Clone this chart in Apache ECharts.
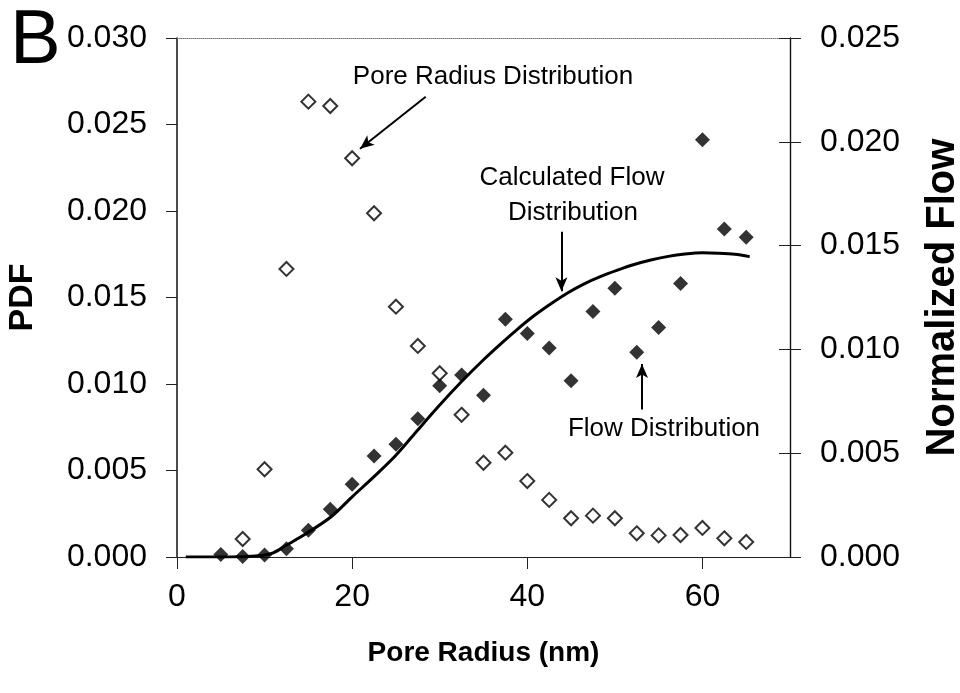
<!DOCTYPE html>
<html>
<head>
<meta charset="utf-8">
<script src="https://cdn.jsdelivr.net/npm/echarts@6/dist/echarts.min.js"></script>
<style>
  html, body { margin: 0; padding: 0; background: #fff; }
  #chart { width: 960px; height: 693px; }
</style>
</head>
<body>
<div id="chart"></div>
<script>
// ---- Data ----
var xTicks = [0, 20, 40, 60];
var leftTicks = ['0.000', '0.005', '0.010', '0.015', '0.020', '0.025', '0.030'];
var rightTicks = ['0.000', '0.005', '0.010', '0.015', '0.020', '0.025'];

// Pore Radius Distribution (open diamonds, left axis PDF)
var pdfRadius = [7.5, 10, 12.5, 15, 17.5, 20, 22.5, 25, 27.5, 30, 32.5, 35, 37.5, 40, 42.5, 45, 47.5, 50, 52.5, 55, 57.5, 60, 62.5, 65];
var pdfValues = [0.00104, 0.00507, 0.01665, 0.02632, 0.02607, 0.02305, 0.01987, 0.01447, 0.0122, 0.01062, 0.00822, 0.00545, 0.00603, 0.00439, 0.0033, 0.00224, 0.00239, 0.00224, 0.00137, 0.00125, 0.00127, 0.00168, 0.00108, 0.00087];

// Flow Distribution (filled diamonds, right axis Normalized Flow)
var flowRadius = [5, 7.5, 10, 12.5, 15, 17.5, 20, 22.5, 25, 27.5, 30, 32.5, 35, 37.5, 40, 42.5, 45, 47.5, 50, 52.5, 55, 57.5, 60, 62.5, 65];
var flowValues = [0.00012, 0.00003, 0.0001, 0.0004, 0.00129, 0.0023, 0.0035, 0.00487, 0.00543, 0.00666, 0.00825, 0.00877, 0.00779, 0.01145, 0.01077, 0.01007, 0.00849, 0.01182, 0.01294, 0.00986, 0.01105, 0.01318, 0.0201, 0.0158, 0.0154];

// Calculated Flow Distribution (solid curve, right axis)
var curveRadius = [1, 5, 8, 10, 11, 12.4, 14.8, 17.6, 20, 22.5, 25, 27.5, 30, 32.5, 35, 37, 38.9, 40.8, 42.7, 44.6, 46.5, 48.4, 50.3, 52.2, 54.1, 56.1, 58, 60, 61.8, 63.7, 65.4];
var curveValues = [0, 0, 0.00002, 0.0001, 0.0002, 0.00054, 0.00114, 0.00194, 0.0029, 0.00387, 0.0049, 0.00612, 0.00732, 0.00845, 0.0095, 0.01028, 0.01098, 0.01163, 0.0122, 0.01272, 0.01316, 0.01352, 0.01382, 0.01409, 0.01431, 0.01448, 0.01459, 0.01465, 0.01463, 0.01458, 0.01447];

// Annotation arrows in data coordinates [x, y] (start -> tip)
var poreArrow = [[28.4, 0.0266], [20.9, 0.0236]];
var calcArrow = [[43.9, 0.01567], [43.9, 0.0128]];
var flowArrow = [[53.1, 0.0071], [53.1, 0.0093]];

function zip(a, b) { return a.map(function (v, i) { return [v, b[i]]; }); }

var FONT = "'Liberation Sans', Arial, Helvetica, sans-serif";
var chart = echarts.init(document.getElementById('chart'), null, { renderer: 'canvas' });

function arrowLine(pts) {
  return {
    silent: true,
    symbol: ['none', 'arrow'],
    symbolSize: [9, 14],
    label: { show: false },
    lineStyle: { color: '#000', width: 2, type: 'solid' },
    data: [[{ coord: pts[0] }, { coord: pts[1] }]]
  };
}

var option = {
  animation: false,
  backgroundColor: '#fff',
  textStyle: { fontFamily: FONT },
  grid: { left: 177, right: 170, top: 38, bottom: 136, containLabel: false, outerBoundsMode: 'none' },
  xAxis: [{
    type: 'value', min: 0, max: 70, interval: 20, position: 'bottom',
    axisLine: { show: true, onZero: false, lineStyle: { color: '#222', width: 1.2 } },
    axisTick: { show: true, inside: false, length: 12, lineStyle: { color: '#222', width: 1 } },
    axisLabel: {
      fontSize: 32, color: '#000', fontFamily: FONT, margin: 24, showMaxLabel: false,
      formatter: function (v) { return xTicks.indexOf(v) >= 0 ? String(v) : ''; }
    },
    splitLine: { show: false },
    name: 'Pore Radius (nm)', nameLocation: 'middle', nameGap: 82,
    nameTextStyle: { fontSize: 28, fontWeight: 'bold', color: '#000', fontFamily: FONT }
  }, {
    type: 'value', min: 0, max: 70, position: 'top',
    axisLine: { show: true, onZero: false, lineStyle: { color: '#777', width: 1, type: 'dotted' } },
    axisTick: { show: false }, axisLabel: { show: false }, splitLine: { show: false }
  }],
  yAxis: [{
    type: 'value', min: 0, max: 0.03, interval: 0.005, position: 'left',
    axisLine: { show: true, onZero: false, lineStyle: { color: '#111', width: 1.5 } },
    axisTick: { show: true, inside: false, length: 11, lineStyle: { color: '#222' } },
    axisLabel: {
      fontSize: 32, color: '#000', fontFamily: FONT, margin: 30,
      formatter: function (v) { return leftTicks[Math.round(v / 0.005)]; }
    },
    splitLine: { show: false },
    name: 'PDF', nameLocation: 'middle', nameGap: 137, nameRotate: 90,
    nameTextStyle: { fontSize: 34, fontWeight: 'bold', color: '#000', fontFamily: FONT }
  }, {
    type: 'value', min: 0, max: 0.025, interval: 0.005, position: 'right',
    axisLine: { show: true, onZero: false, lineStyle: { color: '#111', width: 1.4 } },
    axisTick: { show: true, inside: false, length: 11, lineStyle: { color: '#222' } },
    axisLabel: {
      fontSize: 32, color: '#000', fontFamily: FONT, margin: 30,
      formatter: function (v) { return rightTicks[Math.round(v / 0.005)]; }
    },
    splitLine: { show: false },
    name: 'Normalized Flow', nameLocation: 'middle', nameGap: 133, nameRotate: 90,
    nameTextStyle: { fontSize: 40, fontWeight: 'bold', color: '#000', fontFamily: FONT }
  }, {
    type: 'value', min: 0, max: 0.025, interval: 0.005, position: 'right',
    axisLine: { show: false, onZero: false },
    axisTick: { show: true, inside: true, length: 11, lineStyle: { color: '#222' } },
    axisLabel: { show: false }, splitLine: { show: false }
  }],
  series: [{
    name: 'Calculated Flow Distribution', type: 'line', xAxisIndex: 0, yAxisIndex: 1,
    data: zip(curveRadius, curveValues), smooth: 0.3, showSymbol: false, symbol: 'none',
    lineStyle: { color: '#000', width: 3 }, z: 2,
    markLine: arrowLine(calcArrow)
  }, {
    name: 'Flow Distribution', type: 'scatter', xAxisIndex: 0, yAxisIndex: 1,
    data: zip(flowRadius, flowValues), symbol: 'diamond', symbolSize: 15,
    itemStyle: { color: '#000' }, z: 3,
    markLine: arrowLine(flowArrow)
  }, {
    name: 'Pore Radius Distribution', type: 'scatter', xAxisIndex: 0, yAxisIndex: 0,
    data: zip(pdfRadius, pdfValues), symbol: 'diamond', symbolSize: 14,
    itemStyle: { color: '#fff', borderColor: '#000', borderWidth: 2 }, z: 4,
    markLine: arrowLine(poreArrow)
  }],
  graphic: [
    { type: 'text', left: 10, top: 4, style: { text: 'B', font: 'normal 76px ' + FONT, fill: '#000' } },
    { type: 'text', x: 493, y: 77, style: { text: 'Pore Radius Distribution', font: 'normal 26px ' + FONT, fill: '#000', textAlign: 'center', textVerticalAlign: 'middle' } },
    { type: 'text', x: 572, y: 178, style: { text: 'Calculated Flow', font: 'normal 26px ' + FONT, fill: '#000', textAlign: 'center', textVerticalAlign: 'middle' } },
    { type: 'text', x: 573, y: 213, style: { text: 'Distribution', font: 'normal 26px ' + FONT, fill: '#000', textAlign: 'center', textVerticalAlign: 'middle' } },
    { type: 'text', x: 664, y: 429, style: { text: 'Flow Distribution', font: 'normal 26px ' + FONT, fill: '#000', textAlign: 'center', textVerticalAlign: 'middle' } }
  ]
};
chart.setOption(option);
</script>
</body>
</html>
